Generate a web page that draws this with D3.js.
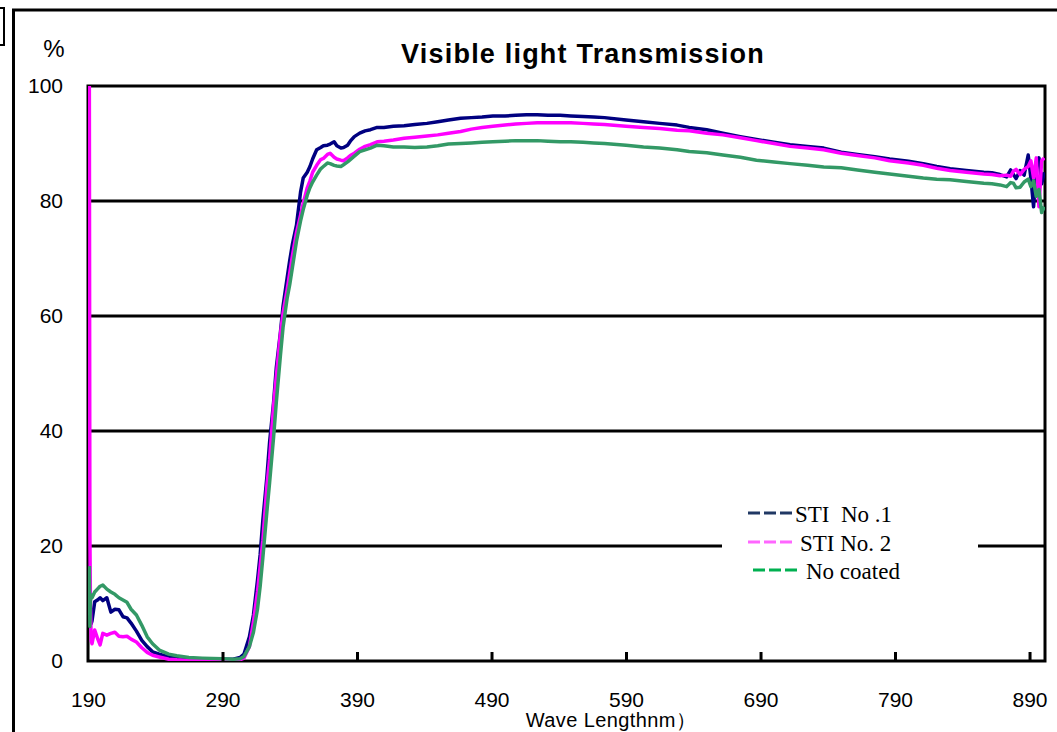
<!DOCTYPE html>
<html>
<head>
<meta charset="utf-8">
<script src="https://cdn.jsdelivr.net/npm/d3@7"></script>
<style>
  body { margin: 0; background: #fff; }
  svg { display: block; }
</style>
</head>
<body>
<svg id="chart" width="1057" height="732"></svg>
<script>
// wavelength (nm) and transmission (%)
var wavelengths = [191, 191.4, 191.8, 192.4, 193, 195, 197, 199, 201, 204,
	207, 210, 213, 216, 219, 222, 226, 230, 234, 238,
	243, 250, 256, 265, 275, 290, 298, 303, 306, 310,
	313, 316, 318, 320, 323, 325, 328, 330, 333, 335,
	338, 340, 342, 345, 348, 350, 353, 355, 357, 360,
	363, 365, 368, 370, 373, 375, 378, 380, 383, 385,
	388, 392, 396, 400, 405, 410, 417, 425, 433, 442,
	450, 458, 467, 475, 483, 491, 500, 508, 516, 524,
	532, 541, 549, 558, 566, 574, 590, 603, 615, 628,
	637, 650, 662, 675, 687, 700, 712, 725, 737, 750,
	762, 775, 786, 800, 811, 821, 831, 843, 856, 862,
	868, 873, 876, 878, 880, 883, 886, 889, 891, 893,
	895, 897, 899, 901];

var sti1 = [12, 9, 8, 6.5, 7, 10.3, 10.6, 11, 10.5, 11,
	8.5, 9, 8.9, 7.7, 7.5, 6.6, 5.2, 3.6, 2.5, 1.6,
	1.2, 0.7, 0.5, 0.35, 0.3, 0.3, 0.3, 0.6, 1.2, 4.2,
	8, 14, 18.5, 24.5, 32, 38, 45, 51, 57, 61.7,
	66.5, 69.7, 72.5, 75.8, 81.5, 84, 85, 86, 87.3, 88.9,
	89.3, 89.6, 89.7, 89.9, 90.3, 89.6, 89.2, 89.3, 89.7, 90.4,
	91.2, 91.8, 92.2, 92.4, 92.8, 92.8, 93, 93.1, 93.3, 93.5,
	93.8, 94.1, 94.4, 94.5, 94.6, 94.8, 94.8, 94.9, 95, 95,
	94.9, 94.9, 94.8, 94.7, 94.6, 94.5, 94.1, 93.8, 93.5, 93.2,
	92.8, 92.4, 91.8, 91.2, 90.7, 90.2, 89.8, 89.5, 89.2, 88.5,
	88.1, 87.7, 87.3, 86.9, 86.5, 86, 85.6, 85.3, 85, 84.9,
	84.6, 84.2, 85.4, 84.6, 83.9, 85.3, 84.5, 88, 84, 79,
	86, 87.5, 83, 85];

var sti2 = [100, 22, 10, 3.5, 3, 5.4, 4, 2.8, 4.8, 4.5,
	4.8, 5, 4.3, 4.2, 4.3, 3.8, 3.3, 2.3, 1.5, 1,
	0.7, 0.3, 0.2, 0.1, 0.1, 0.1, 0.1, 0.2, 0.5, 2.5,
	6.8, 12, 16.5, 21, 30.5, 35, 44.5, 49.5, 56.8, 60.5,
	64.5, 67.5, 70.5, 74.5, 77.5, 79.6, 82.3, 83.5, 85, 86.2,
	87.2, 87.4, 88.1, 88.3, 87.6, 87.3, 87.1, 87, 87.5, 87.9,
	88.3, 89, 89.5, 89.8, 90.3, 90.4, 90.6, 90.9, 91.1, 91.3,
	91.5, 91.8, 92.1, 92.5, 92.8, 93, 93.2, 93.4, 93.5, 93.6,
	93.6, 93.6, 93.6, 93.5, 93.4, 93.3, 93, 92.8, 92.6, 92.3,
	92.2, 91.8, 91.5, 91, 90.5, 90, 89.5, 89.2, 88.9, 88.3,
	87.9, 87.5, 87, 86.6, 86.2, 85.7, 85.3, 85, 84.7, 84.6,
	84.4, 84.5, 84.3, 85.2, 85.5, 84.6, 85.5, 86, 87, 84,
	87.5, 79, 87, 87.5];

var noCoat = [16.5, 6, 10.5, 11.5, 11, 12, 12.5, 13, 13.2, 12.5,
	12, 11.6, 11, 10.6, 10.2, 9, 8, 6.2, 4.2, 3,
	1.9, 1.2, 0.9, 0.6, 0.5, 0.4, 0.3, 0.4, 0.8, 2.5,
	5, 9, 13, 18, 26, 31, 39, 45, 53, 58,
	63, 65.5, 68.5, 73, 76.5, 78.5, 81, 82.3, 83.3, 84.5,
	85.6, 86, 86.6, 86.5, 86.2, 86.1, 86, 86.3, 86.8, 87.2,
	87.8, 88.6, 88.9, 89.2, 89.7, 89.6, 89.4, 89.4, 89.3, 89.4,
	89.6, 89.9, 90, 90.1, 90.2, 90.3, 90.4, 90.5, 90.5, 90.5,
	90.4, 90.3, 90.3, 90.2, 90.1, 90, 89.7, 89.4, 89.2, 88.9,
	88.6, 88.4, 88, 87.6, 87.1, 86.8, 86.5, 86.2, 85.9, 85.8,
	85.4, 85, 84.7, 84.3, 84, 83.8, 83.7, 83.4, 83.1, 83,
	82.8, 82.5, 83.2, 83.1, 82.3, 82.4, 83.3, 83.8, 82.5, 83.5,
	80.8, 82, 78, 79];

var xTicks = [190, 290, 390, 490, 590, 690, 790, 890];
var yTicks = [0, 20, 40, 60, 80, 100];
var gridValues = [20, 40, 60, 80];

var seriesNames = ["STI  No .1", "STI No. 2", "No coated"];
var lineColors = ["#000080", "#ff00ff", "#339966"];
var legendColors = ["#203864", "#ff66ff", "#00b050"];

var margin = {top: 86, right: 12, bottom: 71, left: 88},
	width = 1057 - margin.left - margin.right,
	height = 732 - margin.top - margin.bottom;

var svg = d3.select("#chart");

// outer frame pieces
svg.append("path")
	.attr("d", "M13.5,732V10H1057")
	.attr("fill", "none")
	.attr("stroke", "#000")
	.attr("stroke-width", 3);
svg.append("rect")
	.attr("x", -10).attr("y", 8)
	.attr("width", 14).attr("height", 37)
	.attr("fill", "none")
	.attr("stroke", "#000")
	.attr("stroke-width", 2);

var x = d3.scaleLinear().domain([190, 901.5]).range([0, width]);
var y = d3.scaleLinear().domain([0, 100]).range([height, 0]);

var g = svg.append("g")
	.attr("transform", "translate(" + margin.left + "," + margin.top + ")");

g.append("defs").append("clipPath").attr("id", "clip")
	.append("rect").attr("x", 0).attr("y", -2).attr("width", width).attr("height", height + 2);

// gridlines
g.selectAll("line.grid")
	.data(gridValues)
	.enter().append("line")
	.attr("class", "grid")
	.attr("x1", 0).attr("x2", width)
	.attr("y1", function(d) { return y(d); })
	.attr("y2", function(d) { return y(d); })
	.attr("stroke", "#000")
	.attr("stroke-width", 3);

// legend background hides part of the 20% gridline
g.append("rect")
	.attr("x", 722 - margin.left).attr("y", 498 - margin.top)
	.attr("width", 256).attr("height", 95)
	.attr("fill", "#fff");

// series
var line = d3.line()
	.x(function(d) { return x(d[0]); })
	.y(function(d) { return y(d[1]); });

var seriesValues = [sti1, sti2, noCoat];
var lines = g.append("g").attr("clip-path", "url(#clip)");

// plot frame (under the curves)
g.append("rect")
	.attr("width", width).attr("height", height)
	.attr("fill", "none")
	.attr("stroke", "#000")
	.attr("stroke-width", 3)
	.lower();

seriesValues.forEach(function(vals, i) {
	var pts = wavelengths.map(function(w, k) { return [w, vals[k]]; });
	lines.append("path")
		.datum(pts)
		.attr("fill", "none")
		.attr("stroke", lineColors[i])
		.attr("stroke-width", 3.5)
		.attr("stroke-linejoin", "round")
		.attr("d", line);
});

// axes
var xAxis = d3.axisBottom(x)
	.tickValues(xTicks)
	.tickSizeInner(-9)
	.tickSizeOuter(0)
	.tickPadding(31)
	.tickFormat(d3.format("d"));

var xg = g.append("g")
	.attr("transform", "translate(0," + height + ")")
	.call(xAxis);
xg.select(".domain").remove();
xg.selectAll(".tick line").attr("stroke", "#000").attr("stroke-width", 3)
	.filter(function(d) { return d == 190; }).remove();
xg.selectAll(".tick text")
	.attr("font-family", "Liberation Sans, Arial, sans-serif")
	.attr("font-size", 21)
	.attr("fill", "#000");

var yAxis = d3.axisLeft(y)
	.tickValues(yTicks)
	.tickSize(0)
	.tickPadding(25);

var yg = g.append("g").call(yAxis);
yg.select(".domain").remove();
yg.selectAll(".tick text")
	.attr("font-family", "Liberation Sans, Arial, sans-serif")
	.attr("font-size", 21)
	.attr("fill", "#000");

// titles
svg.append("text")
	.attr("x", 583).attr("y", 63)
	.attr("text-anchor", "middle")
	.attr("font-family", "Liberation Sans, Arial, sans-serif")
	.attr("font-weight", "bold")
	.attr("font-size", 27)
	.attr("letter-spacing", 1.2)
	.text("Visible light Transmission");

svg.append("text")
	.attr("x", 54).attr("y", 57)
	.attr("text-anchor", "middle")
	.attr("font-family", "Liberation Sans, Arial, sans-serif")
	.attr("font-size", 24)
	.text("%");

svg.append("text")
	.attr("x", 611).attr("y", 727)
	.attr("text-anchor", "middle")
	.attr("font-family", "Liberation Sans, Arial, sans-serif")
	.attr("font-size", 20)
	.attr("letter-spacing", 0.4)
	.text("Wave Lengthnm）");

// legend
var legendX = [748, 748, 753];
var legendY = [513, 542, 570];
var legendTextX = [795, 800, 806];
var legendTextY = [522, 551, 579];
seriesNames.forEach(function(name, i) {
	svg.append("line")
		.attr("x1", legendX[i]).attr("x2", legendX[i] + 46)
		.attr("y1", legendY[i]).attr("y2", legendY[i])
		.attr("stroke", legendColors[i])
		.attr("stroke-width", 3)
		.attr("stroke-dasharray", "12,4");
	svg.append("text")
		.attr("x", legendTextX[i]).attr("y", legendTextY[i])
		.attr("font-family", "Liberation Serif, Times New Roman, serif")
		.attr("font-size", 23)
		.style("white-space", "pre")
		.text(name);
});
</script>
</body>
</html>
